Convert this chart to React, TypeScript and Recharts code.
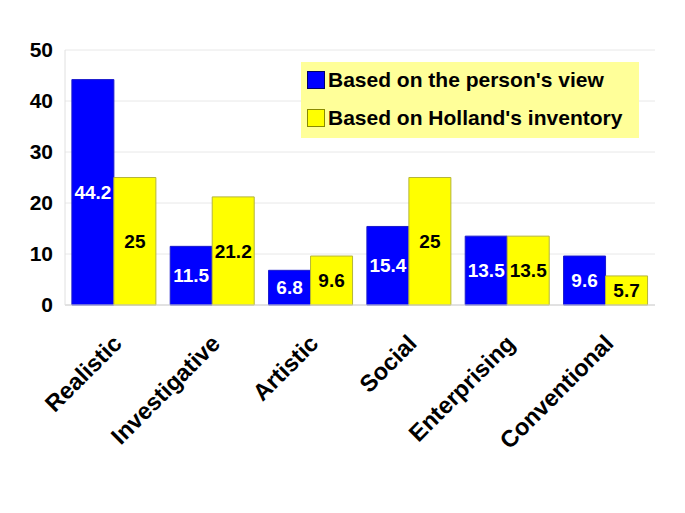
import React from 'react';
import {
  BarChart,
  Bar,
  XAxis,
  YAxis,
  CartesianGrid,
  Legend,
  LabelList
} from 'recharts';

const categories = ['Realistic', 'Investigative', 'Artistic', 'Social', 'Enterprising', 'Conventional'];
const personView = [44.2, 11.5, 6.8, 15.4, 13.5, 9.6];
const hollandInventory = [25, 21.2, 9.6, 25, 13.5, 5.7];
const seriesNames = ["Based on the person's view", "Based on Holland's inventory"];
const yTicks = [0, 10, 20, 30, 40, 50];

const FONT = '"Liberation Sans", Arial, sans-serif';

const data = categories.map((name, i) => ({
  name,
  person: personView[i],
  holland: hollandInventory[i]
}));

// rotated category labels, anchored at their right end
const AngledTick = ({ x, y, payload }: any) => (
  <g transform={`translate(${x + 9},${y + 32})`}>
    <text
      textAnchor="end"
      transform="rotate(-45)"
      fontFamily={FONT}
      fontWeight="bold"
      fontSize={23.5}
      fill="#000"
    >
      {payload.value}
    </text>
  </g>
);

const LegendBox = ({ payload }: any) => {
  // keep the series order, not the alphabetical one
  const items = [...(payload || [])].sort(
    (a: any, b: any) => seriesNames.indexOf(a.value) - seriesNames.indexOf(b.value)
  );
  return (
    <div
      style={{
        background: '#ffff99',
        width: 338,
        height: 76,
        boxSizing: 'border-box',
        padding: '3px 0 0 6px',
        fontFamily: FONT,
        fontWeight: 'bold',
        fontSize: 21,
        color: '#000'
      }}
    >
      {items.map((p: any, i: number) => (
        <div key={p.value} style={{ display: 'flex', alignItems: 'center', height: 30, marginBottom: 8 }}>
          <span
            style={{
              display: 'inline-block',
              width: 16,
              height: 16,
              background: p.color,
              border: `1px solid ${i === 1 ? '#8a8a00' : '#000066'}`,
              marginRight: 3
            }}
          />
          <span>{p.value}</span>
        </div>
      ))}
    </div>
  );
};

export default function App() {
  return (
    <div style={{ position: 'absolute', left: 0, top: 0, width: 685, height: 513, background: '#fff' }}>
      <BarChart
        width={685}
        height={513}
        data={data}
        margin={{ top: 50, right: 30, bottom: 8, left: 0 }}
        barCategoryGap="7%"
        barGap={0}
      >
        <CartesianGrid vertical={false} stroke="#e8e8e8" />
        <XAxis
          dataKey="name"
          height={200}
          interval={0}
          tickLine={false}
          axisLine={{ stroke: '#d0d0d0' }}
          tick={<AngledTick />}
        />
        <YAxis
          width={65}
          domain={[0, 50]}
          ticks={yTicks}
          tickLine={false}
          tickMargin={6}
          axisLine={{ stroke: '#e0e0e0' }}
          tick={{ fontFamily: FONT, fontWeight: 'bold', fontSize: 21, fill: '#000' }}
        />
        <YAxis
          yAxisId="frame"
          orientation="right"
          width={0}
          tick={false}
          tickLine={false}
          axisLine={{ stroke: '#e0e0e0' }}
        />
        <Legend
          layout="horizontal"
          verticalAlign="middle"
          align="center"
          wrapperStyle={{ left: 301, top: 62, width: 338, height: 76 }}
          content={<LegendBox />}
        />
        <Bar
          dataKey="person"
          name={seriesNames[0]}
          fill="#0000ff"
          stroke="#1a1acc"
          strokeWidth={1}
          isAnimationActive={false}
        >
          <LabelList
            dataKey="person"
            position="center"
            fill="#ffffff"
            fontFamily={FONT}
            fontWeight="bold"
            fontSize={19}
          />
        </Bar>
        <Bar
          dataKey="holland"
          name={seriesNames[1]}
          fill="#ffff00"
          stroke="#b5b53a"
          strokeWidth={1}
          isAnimationActive={false}
        >
          <LabelList
            dataKey="holland"
            position="center"
            fill="#000000"
            fontFamily={FONT}
            fontWeight="bold"
            fontSize={19}
          />
        </Bar>
      </BarChart>
    </div>
  );
}
